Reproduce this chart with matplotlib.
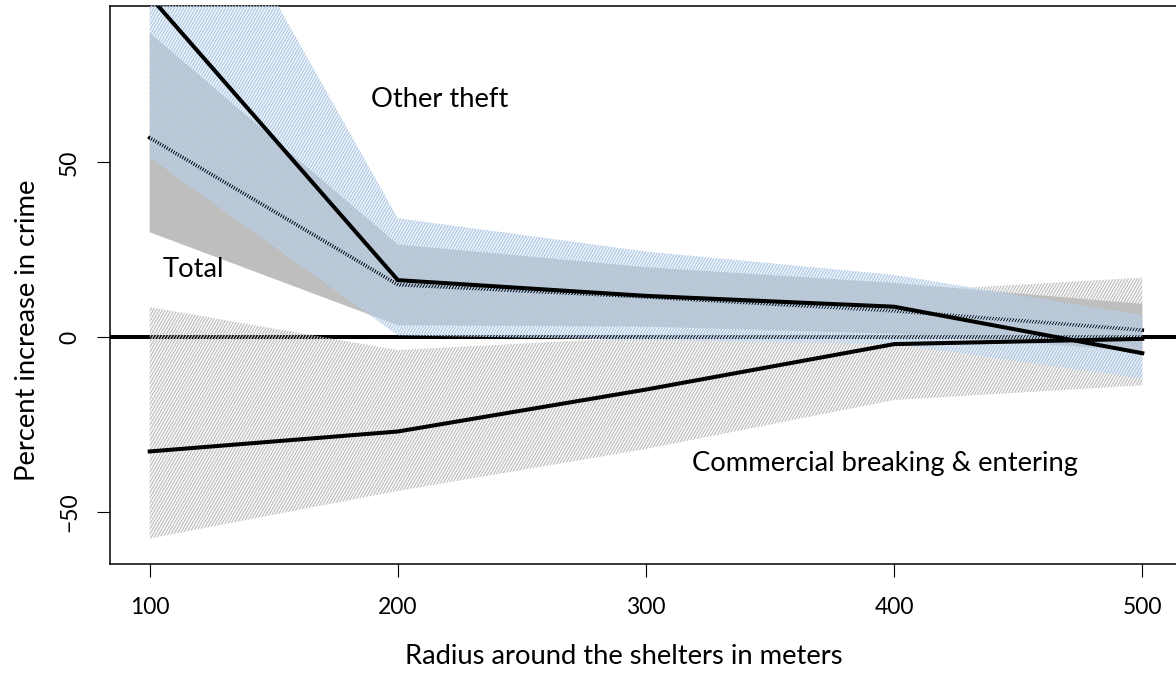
import numpy as np
import matplotlib
matplotlib.use("Agg")
import matplotlib.pyplot as plt
from matplotlib.collections import LineCollection

plt.rcParams['font.family'] = ['Lato', 'DejaVu Sans']

# radius in meters
radius = [100, 200, 300, 400, 500]

# percent increase in crime, estimates and confidence bands
total = [57, 15, 11.5, 7.5, 2]
total_lo = [30, 3.4, 3, 1, -4]
total_hi = [87, 26.5, 20, 15.5, 9.5]

theft = [97.5, 16.3, 11.8, 8.7, -4.6]
theft_lo = [51.3, 0.5, -0.8, -2, -11.8]
theft_hi = [160, 34, 24.5, 17.8, 6.3]

comm = [-32.7, -27, -15, -2, -0.5]
comm_lo = [-57.6, -44, -32, -18, -13.8]
comm_hi = [8.6, -3.7, 0, 13, 17]

W, H = 1176, 679
fig = plt.figure(figsize=(W / 100, H / 100), dpi=100)
ax = fig.add_axes([110 / W, 1 - 564 / H, (1182 - 110) / W, (564 - 5.7) / H])


def hatch_band(ax, x, lo, hi, color, z, angle=60, step=3.0, lw=0.9):
    poly = ax.fill_between(x, lo, hi, facecolor='none', edgecolor='none', zorder=z)
    bb = ax.get_position()
    wpx, hpx = bb.width * W, bb.height * H
    run = hpx / np.tan(np.radians(angle))
    starts = np.arange(-run, wpx + step, step)
    segs = [[(s / wpx, 0), ((s + run) / wpx, 1)] for s in starts]
    lc = LineCollection(segs, colors=color, linewidths=lw, transform=ax.transAxes, zorder=z)
    lc.set_clip_path(poly.get_paths()[0], ax.transData)
    ax.add_collection(lc)


ax.fill_between(radius, total_lo, total_hi, facecolor='#bebebe', edgecolor='none', zorder=1)
ax.plot(radius, total, color='black', lw=2.6, zorder=2)
ax.axhline(0, color='black', lw=2.9, zorder=2)

hatch_band(ax, radius, comm_lo, comm_hi, '#bfbfbf', 3, lw=0.9)
hatch_band(ax, radius, theft_lo, theft_hi, '#b8cfe8', 4, lw=1.15)

ax.plot(radius, theft, color='black', lw=2.9, zorder=5)
ax.plot(radius, comm, color='black', lw=2.9, zorder=5)

fs = 19.7
tfs = 16.5
ax.text(217, 68, 'Other theft', fontsize=fs, ha='center', va='center', zorder=6)
ax.text(117.7, 19.2, 'Total', fontsize=fs, ha='center', va='center', zorder=6)
ax.text(396.4, -36.1, 'Commercial breaking & entering', fontsize=fs, ha='center', va='center', zorder=6)

ax.set_xlim(84, 516)
ax.set_ylim(-64.9, 94.8)
ax.set_xticks(radius)
ax.set_yticks([-50, 0, 50])
ax.tick_params(axis='both', length=9.5, width=0.8, labelsize=tfs, direction='out')
ax.tick_params(axis='x', pad=14)
ax.tick_params(axis='y', pad=12)
for lab in ax.get_yticklabels():
    lab.set_rotation(90)
    lab.set_va('center')
for sp in ax.spines.values():
    sp.set_linewidth(1.1)

fig.text(624 / W, 1 - 656 / H, 'Radius around the shelters in meters', fontsize=fs,
         ha='center', va='center')
fig.text(28 / W, 1 - 330 / H, 'Percent increase in crime', fontsize=fs,
         ha='center', va='center', rotation=90)

fig.savefig('out.png', dpi=100)
